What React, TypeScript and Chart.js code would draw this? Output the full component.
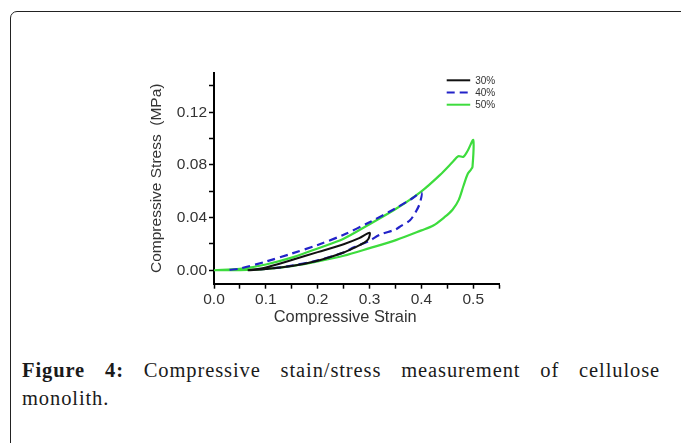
import React, { useEffect, useRef } from "react";
import { Chart, registerables } from "chart.js";

Chart.register(...registerables);

// ---- data ----
const seriesLabels = ["30%", "40%", "50%"];
const seriesColors = ["#111111", "#2222c8", "#3ddc3d"];

// 30% loop: loading branch then unloading branch
const strain30 = [0.065, 0.1, 0.15, 0.2, 0.25, 0.28, 0.3, 0.298, 0.29, 0.27, 0.25, 0.2, 0.15, 0.1, 0.065];
const stress30 = [0.0, 0.0022, 0.0078, 0.0138, 0.0198, 0.0244, 0.0285, 0.024, 0.021, 0.017, 0.0135, 0.0072, 0.0032, 0.001, 0.0];

// 40% loop
const strain40 = [0.03, 0.05, 0.1, 0.15, 0.2, 0.25, 0.3, 0.35, 0.38, 0.4, 0.397, 0.39, 0.378, 0.36, 0.35, 0.32, 0.3, 0.27, 0.25, 0.2, 0.15, 0.12, 0.08];
const stress40 = [0.0003, 0.0013, 0.0066, 0.0127, 0.0192, 0.027, 0.0365, 0.047, 0.054, 0.0588, 0.051, 0.045, 0.038, 0.0335, 0.031, 0.027, 0.0225, 0.0175, 0.0135, 0.0075, 0.0035, 0.0018, 0.0005];

// 50% loop
const strain50 = [0.0, 0.05, 0.1, 0.153, 0.2, 0.25, 0.3, 0.351, 0.4, 0.436, 0.461, 0.471, 0.481, 0.49, 0.5, 0.4985, 0.4955, 0.489, 0.481, 0.472, 0.46, 0.445, 0.423, 0.4, 0.352, 0.3, 0.25, 0.2, 0.153, 0.1, 0.05, 0.0];
const stress50 = [0.0, 0.001, 0.0044, 0.01, 0.0166, 0.024, 0.035, 0.0467, 0.06, 0.0725, 0.0826, 0.0866, 0.0862, 0.0914, 0.099, 0.0785, 0.0765, 0.073, 0.064, 0.0535, 0.046, 0.0405, 0.034, 0.0303, 0.0231, 0.0168, 0.011, 0.0067, 0.0034, 0.0011, 0.0001, 0.0];

const xTickLabels = ["0.0", "0.1", "0.2", "0.3", "0.4", "0.5"];
const yTickLabels = ["0.00", "0.04", "0.08", "0.12"];

const xAxisTitle = "Compressive Strain";
const yAxisTitle = "Compressive Stress  (MPa)";

const captionBold = "Figure 4:";
const captionLine1 = "Compressive stain/stress measurement of cellulose";
const captionLine2 = "monolith.";

const toPoints = (xs: number[], ys: number[]) => xs.map((x, i) => ({ x, y: ys[i] }));

const legendPlugin = {
  id: "insetLegend",
  afterDraw(chart: any) {
    const ctx = chart.ctx;
    const area = chart.chartArea;
    const x0 = area.right - 52.5;
    const x1 = area.right - 29;
    const tx = area.right - 24;
    const y0 = area.top + 7.5;
    const dy = 12.2;
    ctx.save();
    chart.data.datasets.forEach((ds: any, i: number) => {
      const y = y0 + i * dy;
      ctx.beginPath();
      ctx.setLineDash(ds.borderDash || []);
      ctx.strokeStyle = ds.borderColor;
      ctx.lineWidth = 2;
      ctx.moveTo(x0, y);
      ctx.lineTo(x1, y);
      ctx.stroke();
      ctx.setLineDash([]);
      ctx.fillStyle = "#333";
      ctx.font = '10px "Liberation Sans", Arial, sans-serif';
      ctx.textAlign = "left";
      ctx.textBaseline = "middle";
      ctx.fillText(ds.label, tx, y + 0.5);
    });
    ctx.restore();
  },
};

export default function App() {
  const canvasRef = useRef<HTMLCanvasElement | null>(null);

  useEffect(() => {
    if (!canvasRef.current) return;
    const family = '"Liberation Sans", Arial, sans-serif';
    const font = { family, size: 15.5 };
    const chart = new Chart(canvasRef.current, {
      type: "scatter",
      data: {
        datasets: [
          {
            label: seriesLabels[0],
            data: toPoints(strain30, stress30),
            showLine: true,
            borderColor: seriesColors[0],
            backgroundColor: seriesColors[0],
            borderWidth: 2,
            pointRadius: 0,
            tension: 0.3,
          },
          {
            label: seriesLabels[1],
            data: toPoints(strain40, stress40),
            showLine: true,
            borderColor: seriesColors[1],
            backgroundColor: seriesColors[1],
            borderWidth: 2.2,
            borderDash: [8, 5],
            pointRadius: 0,
            tension: 0.3,
          },
          {
            label: seriesLabels[2],
            data: toPoints(strain50, stress50),
            showLine: true,
            borderColor: seriesColors[2],
            backgroundColor: seriesColors[2],
            borderWidth: 2.2,
            pointRadius: 0,
            tension: 0.3,
          },
        ],
      },
      options: {
        animation: false,
        responsive: true,
        maintainAspectRatio: false,
        devicePixelRatio: 1,
        layout: { padding: { top: 12.8, right: 20.8, left: 0, bottom: 0 } },
        plugins: { legend: { display: false }, tooltip: { enabled: false } },
        scales: {
          x: {
            type: "linear",
            min: 0,
            max: 0.55,
            afterFit: (s: any) => {
              s.height = 56.3;
            },
            border: { display: true, color: "#000", width: 2 },
            grid: { drawOnChartArea: false, drawTicks: true, tickLength: 5, tickWidth: 1.5, tickColor: "#000" },
            ticks: {
              stepSize: 0.05,
              autoSkip: false,
              includeBounds: false,
              maxRotation: 0,
              padding: 2,
              color: "#333",
              font,
              callback: (v: any) => {
                const k = Number(v) * 10;
                const r = Math.round(k);
                return Math.abs(k - r) < 1e-6 && xTickLabels[r] !== undefined ? xTickLabels[r] : "";
              },
            },
            title: {
              display: true,
              // trailing spaces shift the centred title over the 0–0.5 data span, as in the figure
              text: xAxisTitle + "     ",
              color: "#333",
              font: { family, size: 16.4 },
              padding: { top: 0, bottom: 12.5 },
            },
          },
          y: {
            type: "linear",
            min: -0.0102,
            max: 0.15,
            afterFit: (s: any) => {
              s.width = 74;
            },
            border: { display: true, color: "#000", width: 2 },
            grid: { drawOnChartArea: false, drawTicks: true, tickLength: 5, tickWidth: 1.5, tickColor: "#000" },
            ticks: {
              stepSize: 0.02,
              autoSkip: false,
              includeBounds: false,
              padding: 2,
              color: "#333",
              font,
              callback: (v: any) => {
                const k = Number(v) / 0.04;
                const r = Math.round(k);
                return Math.abs(k - r) < 1e-6 && yTickLabels[r] !== undefined ? yTickLabels[r] : "";
              },
            },
            title: {
              display: true,
              text: yAxisTitle,
              color: "#333",
              font: { family, size: 15.5 },
              padding: { top: 7, bottom: 0 },
            },
          },
        },
      },
      plugins: [legendPlugin],
    } as any);
    return () => chart.destroy();
  }, []);

  return (
    <div
      style={{
        position: "fixed",
        left: 0,
        top: 0,
        width: 681,
        height: 443,
        overflow: "hidden",
        background: "#fff",
      }}
    >
      <div
        style={{
          position: "absolute",
          left: 10,
          top: 11,
          width: 720,
          height: 520,
          border: "1.5px solid #222",
          borderRadius: 7,
          boxSizing: "border-box",
        }}
      />
      <div style={{ position: "absolute", left: 140, top: 60, width: 380, height: 280 }}>
        <canvas ref={canvasRef} />
      </div>
      <div
        style={{
          position: "absolute",
          left: 22,
          top: 356,
          width: 638,
          fontFamily: '"Liberation Serif", "Times New Roman", serif',
          fontSize: 20.5,
          lineHeight: "28px",
          color: "#1a1a1a",
          letterSpacing: 0.9,
        }}
      >
        <div style={{ textAlign: "justify", textAlignLast: "justify" as any }}>
          <b>{captionBold}</b> {captionLine1}
        </div>
        <div>{captionLine2}</div>
      </div>
    </div>
  );
}
